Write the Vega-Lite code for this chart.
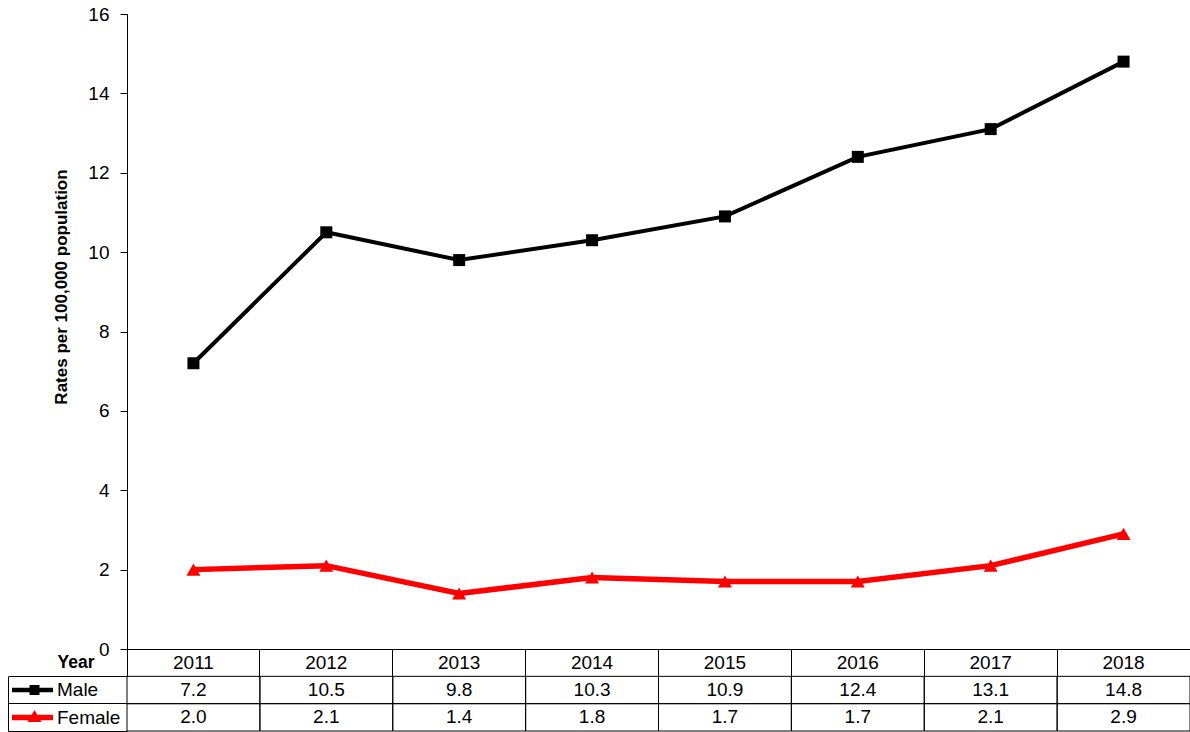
{
  "$schema": "https://vega.github.io/schema/vega-lite/v6.json",
  "width": 1063,
  "height": 635,
  "autosize": {"type": "none"},
  "padding": {"left": 127, "top": 14, "right": 0, "bottom": 83},
  "background": "white",
  "config": {
    "view": {"stroke": null},
    "font": "Liberation Sans",
    "axis": {"domainColor": "black", "tickColor": "black", "labelColor": "black", "titleColor": "black", "grid": false, "labelFont": "Liberation Sans", "titleFont": "Liberation Sans"}
  },
  "data": {"values": [
    {"year": "2011", "sex": "Male", "rate": 7.2},
    {"year": "2012", "sex": "Male", "rate": 10.5},
    {"year": "2013", "sex": "Male", "rate": 9.8},
    {"year": "2014", "sex": "Male", "rate": 10.3},
    {"year": "2015", "sex": "Male", "rate": 10.9},
    {"year": "2016", "sex": "Male", "rate": 12.4},
    {"year": "2017", "sex": "Male", "rate": 13.1},
    {"year": "2018", "sex": "Male", "rate": 14.8},
    {"year": "2011", "sex": "Female", "rate": 2.0},
    {"year": "2012", "sex": "Female", "rate": 2.1},
    {"year": "2013", "sex": "Female", "rate": 1.4},
    {"year": "2014", "sex": "Female", "rate": 1.8},
    {"year": "2015", "sex": "Female", "rate": 1.7},
    {"year": "2016", "sex": "Female", "rate": 1.7},
    {"year": "2017", "sex": "Female", "rate": 2.1},
    {"year": "2018", "sex": "Female", "rate": 2.9}
  ]},
  "resolve": {"scale": {"y": "independent"}, "axis": {"y": "independent", "x": "shared"}},
  "layer": [
    {
      "transform": [{"filter": "datum.sex === 'Male'"}],
      "mark": {"type": "line", "color": "#000000", "strokeWidth": 4},
      "encoding": {
        "x": {"field": "year", "type": "ordinal", "scale": {"paddingInner": 0, "paddingOuter": 0},
          "axis": {"title": "Year", "titleFontWeight": "bold", "titleFontSize": 17.5, "titleX": -33, "titleY": 13.5, "titleAlign": "right", "titleBaseline": "middle", "titleAngle": 0,
            "labelFontSize": 19, "labelAngle": 0, "labelBaseline": "middle", "labelPadding": -13.5,
            "ticks": true, "tickSize": 27, "bandPosition": 0, "tickExtra": true, "domain": true}},
        "y": {"field": "rate", "type": "quantitative", "scale": {"domain": [0, 16], "nice": false, "zero": true},
          "axis": {"values": [0, 2, 4, 6, 8, 10, 12, 14, 16], "orient": "left", "title": "Rates per 100,000 population", "titleFontWeight": "bold", "titleFontSize": 17, "titleX": -66, "titleY": 272.5, "titleAlign": "center", "titleBaseline": "middle", "titleAngle": -90,
            "labelFontSize": 19, "tickSize": 7, "labelPadding": 11}}
      }
    },
    {
      "transform": [{"filter": "datum.sex === 'Female'"}],
      "mark": {"type": "line", "color": "#ff0000", "strokeWidth": 5.5},
      "encoding": {
        "x": {"field": "year", "type": "ordinal", "scale": {"paddingInner": 0, "paddingOuter": 0}},
        "y": {"field": "rate", "type": "quantitative", "scale": {"domain": [0, 16], "nice": false}, "axis": null}
      }
    },
    {
      "transform": [{"filter": "datum.sex === 'Male'"}],
      "mark": {"type": "point", "filled": true, "opacity": 1, "shape": "square", "size": 144, "color": "#000000"},
      "encoding": {
        "x": {"field": "year", "type": "ordinal", "scale": {"paddingInner": 0, "paddingOuter": 0}},
        "y": {"field": "rate", "type": "quantitative", "scale": {"domain": [0, 16], "nice": false}, "axis": null}
      }
    },
    {
      "transform": [{"filter": "datum.sex === 'Female'"}],
      "mark": {"type": "point", "filled": true, "opacity": 1, "shape": "triangle-up", "size": 196, "color": "#ff0000"},
      "encoding": {
        "x": {"field": "year", "type": "ordinal", "scale": {"paddingInner": 0, "paddingOuter": 0}},
        "y": {"field": "rate", "type": "quantitative", "scale": {"domain": [0, 16], "nice": false}, "axis": null}
      }
    },
    {
      "mark": {"type": "point", "filled": true, "opacity": 0},
      "encoding": {
        "x": {"field": "year", "type": "ordinal", "scale": {"paddingInner": 0, "paddingOuter": 0}},
        "y": {"field": "rate", "type": "quantitative", "scale": {"domain": [0, 16], "nice": false}, "axis": null},
        "color": {"field": "sex", "type": "nominal", "scale": {"domain": ["Male", "Female"], "range": ["#000000", "#ff0000"]},
          "legend": {"orient": "none", "legendX": -115, "legendY": 666, "direction": "vertical", "title": null, "padding": 0,
            "symbolSize": 400, "symbolStrokeWidth": 0, "symbolOpacity": 1, "rowPadding": 7.5, "labelOffset": 25, "labelFontSize": 19, "labelColor": "black", "labelFont": "Liberation Sans"}},
        "shape": {"field": "sex", "type": "nominal", "scale": {"domain": ["Male", "Female"], "range": ["M-1,-0.22H3.1V0.22H-1ZM0.75,-0.5H1.75V0.5H0.75Z", "M-1,-0.28H3.1V0.28H-1ZM0.55,0.45L1.25,-0.75L1.95,0.45Z"]},
          "legend": {"orient": "none", "legendX": -115, "legendY": 666, "direction": "vertical", "title": null, "padding": 0,
            "symbolSize": 400, "symbolStrokeWidth": 0, "symbolOpacity": 1, "rowPadding": 7.5, "labelOffset": 25, "labelFontSize": 19, "labelColor": "black", "labelFont": "Liberation Sans"}}
      }
    },
    {
      "mark": {"type": "rect", "fill": "white", "fillOpacity": 0, "stroke": "black", "strokeWidth": 1},
      "encoding": {
        "x": {"field": "year", "type": "ordinal", "scale": {"paddingInner": 0, "paddingOuter": 0}},
        "y": {"field": "sex", "type": "nominal", "scale": {"domain": ["Year", "Male", "Female"], "range": [635, 717], "paddingInner": 0, "paddingOuter": 0},
          "axis": {"orient": "left", "offset": 119, "title": null, "labels": false, "ticks": true, "tickSize": -119, "bandPosition": 1, "tickExtra": false, "domain": true, "domainDash": [0, 27.33, 54.67, 0], "grid": false}}
      }
    },
    {
      "mark": {"type": "text", "fontSize": 19, "color": "black", "align": "center", "baseline": "middle"},
      "encoding": {
        "x": {"field": "year", "type": "ordinal", "scale": {"paddingInner": 0, "paddingOuter": 0}},
        "y": {"field": "sex", "type": "nominal", "scale": {"domain": ["Year", "Male", "Female"], "range": [635, 717], "paddingInner": 0, "paddingOuter": 0}, "axis": null},
        "text": {"field": "rate", "type": "quantitative", "format": ".1f"}
      }
    }
  ]
}
